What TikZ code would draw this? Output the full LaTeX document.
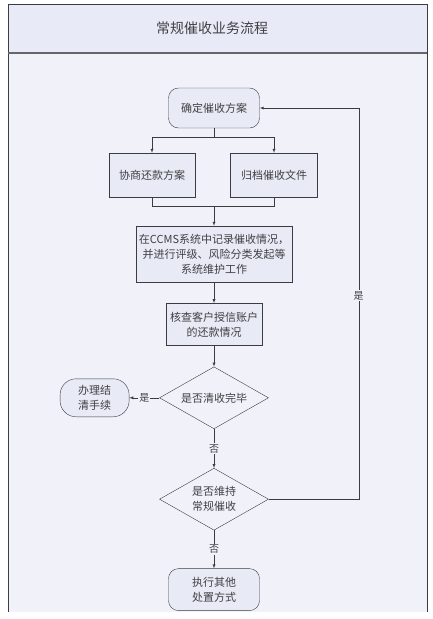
\documentclass[tikz,border=0pt]{standalone}
\usepackage{fontspec}
\newfontfamily\cjk{Noto Sans CJK SC}
\usetikzlibrary{shapes.geometric, arrows, positioning, calc}
\definecolor{bodycolor}{RGB}{241, 241, 250}
\definecolor{titlecolor}{RGB}{232, 235, 247}
\definecolor{boxcolor}{RGB}{232, 234, 245}
\definecolor{linecolor}{RGB}{60, 60, 64}
\definecolor{textcolor}{RGB}{64, 64, 68}

\begin{document}
\begin{tikzpicture}[
    x=1pt, y=1pt,
    node distance=25pt,
    box/.style={
        rectangle,
        draw=linecolor,
        fill=boxcolor,
        align=center,
        text=textcolor,
        font=\cjk\fontsize{11}{15}\selectfont
    },
    roundbox/.style={
        box,
        rounded corners=10pt
    },
    decision/.style={
        diamond,
        aspect=1.76,
        draw=linecolor,
        fill=bodycolor,
        minimum width=109pt,
        minimum height=62pt,
        inner sep=0pt,
        align=center,
        text=textcolor,
        font=\cjk\fontsize{11}{15}\selectfont
    },
    arrow/.style={
        -latex,
        draw=linecolor
    },
    connect/.style={
        draw=linecolor
    },
    answer/.style={
        fill=bodycolor,
        inner sep=1pt,
        text=textcolor,
        font=\cjk\fontsize{10}{12}\selectfont
    }
]

% Frame and title band
\useasboundingbox (0,0) rectangle (433,-619);
\fill[bodycolor] (8,-4) rectangle (427,-612);
\fill[titlecolor] (8,-4) rectangle (427,-53);
\draw[linecolor] (8,-612) -- (8,-4) -- (427,-4) -- (427,-612);
\draw[gray!80!black, line width=1.2pt] (8,-53) -- (427,-53);
\node[text=textcolor, font=\cjk\fontsize{14}{16}\selectfont] (title) at (212,-28) {常规催收业务流程};

% Main process nodes
\node[roundbox, minimum width=91pt, minimum height=40pt] (confirm) at (214,-108) {确定催收方案};

\node[box, minimum width=86pt, minimum height=44pt] (negotiate) at (152,-175) {协商还款方案};

\node[box, minimum width=87pt, minimum height=44pt] (archive) at (274,-175) {归档催收文件};

\node[box, minimum width=156pt, minimum height=56pt, inner sep=1pt] (record) at (214,-254) {在CCMS系统中记录催收情况，\\并进行评级、风险分类发起等\\系统维护工作};

\node[box, minimum width=96pt, minimum height=42pt, inner sep=1pt, below=21pt of record] (check) {核查客户授信账户\\的还款情况};

% Decisions
\node[decision, below=21pt of check] (settled) {是否清收完毕};

\node[roundbox, rounded corners=16pt, minimum width=69pt, minimum height=38pt, left=30pt of settled] (close) {办理结\\清手续};

\node[decision, below=39pt of settled] (keep) {是否维持\\常规催收};

\node[roundbox, minimum width=91pt, minimum height=42pt, below=38pt of keep] (other) {执行其他\\处置方式};

% Split and merge
\coordinate (split) at ($(confirm.south)+(0,-9)$);
\coordinate (merge) at ($(confirm.south |- negotiate.south)+(0,-9)$);
\draw[connect] (confirm.south) -- (split);
\draw[arrow] (split) -| (negotiate.north);
\draw[arrow] (split) -| (archive.north);
\draw[connect] (negotiate.south) |- (merge) -| (archive.south);
\draw[arrow] (merge) -- (record.north);

% Main flow arrows
\draw[arrow] (record.south) -- (check.north);
\draw[arrow] (check.south) -- (settled.north);
\draw[arrow] (settled.west) -- node[answer] {是} (close.east);
\draw[arrow] (settled.south) -- node[answer] {否} (keep.north);
\draw[arrow] (keep.south) -- node[answer] {否} (other.north);

% Loop back to the plan
\coordinate (keep_right) at ($(keep.east)+(90,0)$);
\draw[arrow] (keep.east) -- (keep_right) |- node[answer, pos=0.26] {是} (confirm.east);

\end{tikzpicture}
\end{document}
